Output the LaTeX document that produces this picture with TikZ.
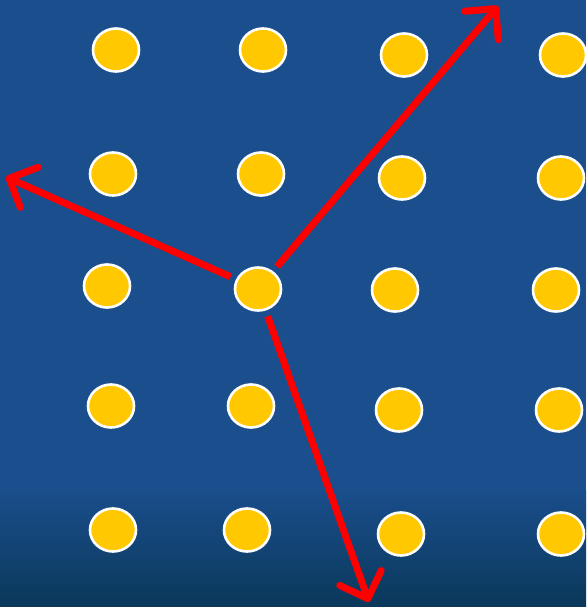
\documentclass[tikz,border=0pt]{standalone}
\usetikzlibrary{arrows.meta,shapes.geometric}
\definecolor{bgblue}{RGB}{26,78,140}
\definecolor{bgdark}{RGB}{10,56,90}
\definecolor{dotyel}{RGB}{255,200,0}
\definecolor{arrred}{RGB}{255,0,0}
\begin{document}
\begin{tikzpicture}[x=1pt,y=-1pt,
  dot/.style={ellipse,draw=white,line width=2.6pt,fill=dotyel,minimum width=46pt,minimum height=43pt,inner sep=0pt},
  vec/.style={draw=arrred,line width=7pt,shorten <=6pt,-{Straight Barb[length=22pt,width=44pt,round,line width=7pt]}}]
\fill[bgblue] (0,0) rectangle (586,607);
\shade[top color=bgblue,bottom color=bgdark] (0,490) rectangle (586,607);
\useasboundingbox (0,0) rectangle (586,607);
% row 1
\node[dot] (d11) at (116,50) {};
\node[dot] (d12) at (263,50) {};
\node[dot] (d13) at (404,55) {};
\node[dot] (d14) at (563,55) {};
% row 2
\node[dot] (d21) at (113,174) {};
\node[dot] (d22) at (261,174) {};
\node[dot] (d23) at (402,178) {};
\node[dot] (d24) at (561,178) {};
% row 3
\node[dot] (d31) at (107,286) {};
\node[dot] (c) at (258,289) {};
\node[dot] (d33) at (395,290) {};
\node[dot] (d34) at (556,290) {};
% row 4
\node[dot] (d41) at (111,406) {};
\node[dot] (d42) at (251,406) {};
\node[dot] (d43) at (399,410) {};
\node[dot] (d44) at (559,410) {};
% row 5
\node[dot] (d51) at (113,530) {};
\node[dot] (d52) at (247,530) {};
\node[dot] (d53) at (401,534) {};
\node[dot] (d54) at (561,534) {};
% arrow ends
\coordinate (ur) at (498,6);
\coordinate (lf) at (6,177);
\coordinate (dn) at (369,602);
\draw[vec] (c) -- (ur);
\draw[vec] (c) -- (lf);
\draw[vec] (c) -- (dn);
\end{tikzpicture}
\end{document}
